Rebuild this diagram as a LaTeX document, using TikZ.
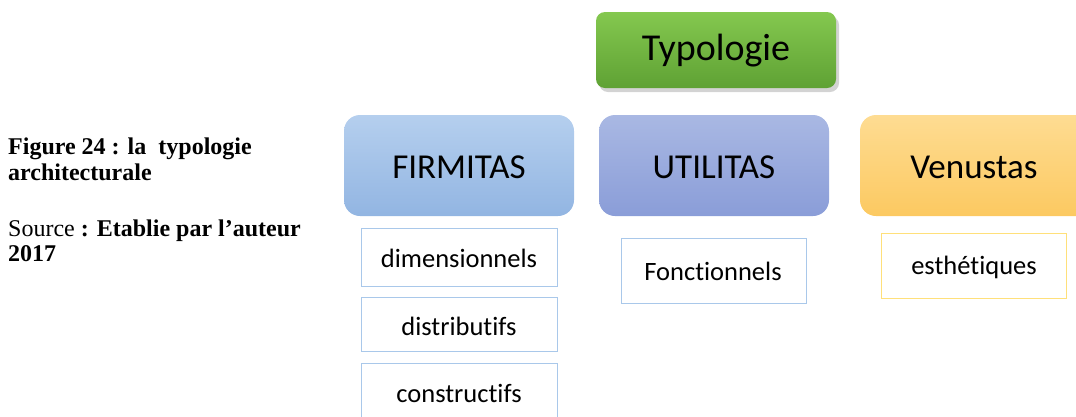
\documentclass[tikz,border=0pt]{standalone}
\usepackage{fontspec}
\setmainfont{Liberation Serif}
\newfontfamily\carl[Ligatures=CommonOff]{Carlito}
\usetikzlibrary{shadows}
\definecolor{bluetop}{HTML}{B5CFEE}
\definecolor{bluebot}{HTML}{92B5E2}
\definecolor{purtop}{HTML}{A9B8E3}
\definecolor{purbot}{HTML}{8A9DD8}
\definecolor{yeltop}{HTML}{FEDC92}
\definecolor{yelbot}{HTML}{FCC961}
\definecolor{grtop}{HTML}{84C84F}
\definecolor{grbot}{HTML}{5FA234}
\definecolor{bluebd}{HTML}{A9C8EA}
\definecolor{yelbd}{HTML}{FFE07A}
\tikzset{
  smallbox/.style={draw=bluebd, line width=0.9pt, fill=white, inner sep=0pt},
  lbl/.style={font=\carl\fontsize{35}{38}\selectfont, text=black},
  slbl/.style={font=\carl\fontsize{26.5}{30}\selectfont, text=black},
  captext/.style={anchor=base west, inner sep=0pt, font=\fontsize{24}{26}\selectfont},
  capbold/.style={captext, font=\fontsize{24}{26}\selectfont\bfseries},
}
\begin{document}
\begin{tikzpicture}[x=1pt,y=-1pt]
\useasboundingbox (0,0) rectangle (1076,416);
% Typologie
\shade[top color=grtop, bottom color=grbot, rounded corners=9pt, drop shadow={opacity=0.35, shadow xshift=3pt, shadow yshift=-4pt}]
  (596,12) rectangle (836,88);
\node[lbl, font=\carl\fontsize{38}{40}\selectfont] (typ) at (716,51) {Typologie};
% Big boxes
\shade[top color=bluetop, bottom color=bluebot, rounded corners=16pt] (344,115) rectangle (574,216);
\node[lbl] (firm) at (459,167) {FIRMITAS};
\shade[top color=purtop, bottom color=purbot, rounded corners=16pt] (599,115) rectangle (829,216);
\node[lbl] (util) at (714,167) {UTILITAS};
\begin{scope}
\clip (0,0) rectangle (1076,416);
\shade[top color=yeltop, bottom color=yelbot, rounded corners=16pt] (860,115) rectangle (1092,216);
\end{scope}
\node[lbl] (venu) at (974,167) {Venustas};
% small boxes
\draw[smallbox] (361,228) rectangle (557,286);
\node[slbl] (dim) at (459,258) {dimensionnels};
\draw[smallbox] (361,297) rectangle (557,351);
\node[slbl] (dist) at (459,326) {distributifs};
\draw[smallbox] (361,363) rectangle (557,420);
\node[slbl] (cons) at (459,393) {constructifs};
\draw[smallbox] (621,238) rectangle (806,303);
\node[slbl] (fonc) at (713,271) {Fonctionnels};
\draw[smallbox, draw=yelbd] (881,233) rectangle (1066,298);
\node[slbl] (esth) at (974,267) {esthétiques};
% caption
\node[capbold] (cap1) at (8,154) {Figure 24 : la~ typologie};
\node[capbold] (cap2) at (8,180) {architecturale};
\node[captext] (src1) at (8,236) {Source \textbf{: Etablie par l’auteur}};
\node[capbold] (src2) at (8,261) {2017};
\end{tikzpicture}
\end{document}
